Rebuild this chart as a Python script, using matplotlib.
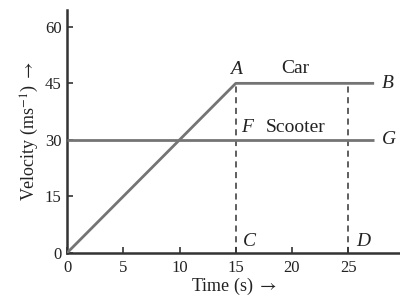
import matplotlib
matplotlib.use("Agg")
import matplotlib.pyplot as plt

# data
car_t = [0, 15, 27.3]
car_v = [0, 45, 45]
scooter_t = [0, 27.3]
scooter_v = [30, 30]
dash_t = [15, 25]
dash_top = 45
xticks = [0, 5, 10, 15, 20, 25]
yticks = [0, 15, 30, 45, 60]

plt.rcParams['font.family'] = ['Liberation Serif', 'DejaVu Serif']
plt.rcParams['mathtext.fontset'] = 'stix'

fig = plt.figure(figsize=[4, 2.99], dpi=100)
ax = fig.add_axes([0.1675, 0.154, 0.8325, 0.813])

line_c = '#747474'
ax.plot(car_t, car_v, color=line_c, lw=2, solid_capstyle='butt', zorder=3)
ax.plot(scooter_t, scooter_v, color=line_c, lw=2, solid_capstyle='butt', zorder=3)
for t in dash_t:
    ax.plot([t, t], [0, dash_top], color='#333333', lw=1.1, ls=(0, (4, 3)), zorder=2)

ax.set_xlim(0, 29.6)
ax.set_ylim(0, 64.5)
ax.set_xticks(xticks)
ax.set_yticks(yticks)
ax.tick_params(direction='in', length=4, width=1.2, color='#333333',
               labelsize=12, labelcolor='#222222')
ax.tick_params(axis='x', pad=5)
ax.tick_params(axis='y', pad=4)
for s in ['top', 'right']:
    ax.spines[s].set_visible(False)
for s in ['left', 'bottom']:
    ax.spines[s].set_linewidth(1.8)
    ax.spines[s].set_color('#333333')

ax.set_xlabel('Time (s) $\\rightarrow$', fontsize=13, labelpad=0, color='#222222')
ax.set_ylabel('Velocity (ms$^{-1}$) $\\rightarrow$', fontsize=13, labelpad=3, color='#222222')

tc = '#222222'
fs = 14
ax.text(15, 46.3, 'A', style='italic', fontsize=fs, ha='center', va='bottom', color=tc)
ax.text(20.3, 46.8, 'Car', fontsize=fs, ha='center', va='bottom', color=tc)
ax.text(28.0, 45, 'B', style='italic', fontsize=fs, ha='left', va='center', color=tc)
ax.text(15.5, 31.0, 'F', style='italic', fontsize=fs, ha='left', va='bottom', color=tc)
ax.text(20.3, 31.0, 'Scooter', fontsize=fs, ha='center', va='bottom', color=tc)
ax.text(28.0, 30, 'G', style='italic', fontsize=fs, ha='left', va='center', color=tc)
ax.text(15.6, 0.8, 'C', style='italic', fontsize=fs, ha='left', va='bottom', color=tc)
ax.text(25.7, 0.8, 'D', style='italic', fontsize=fs, ha='left', va='bottom', color=tc)

fig.savefig('out.png', dpi=100)
